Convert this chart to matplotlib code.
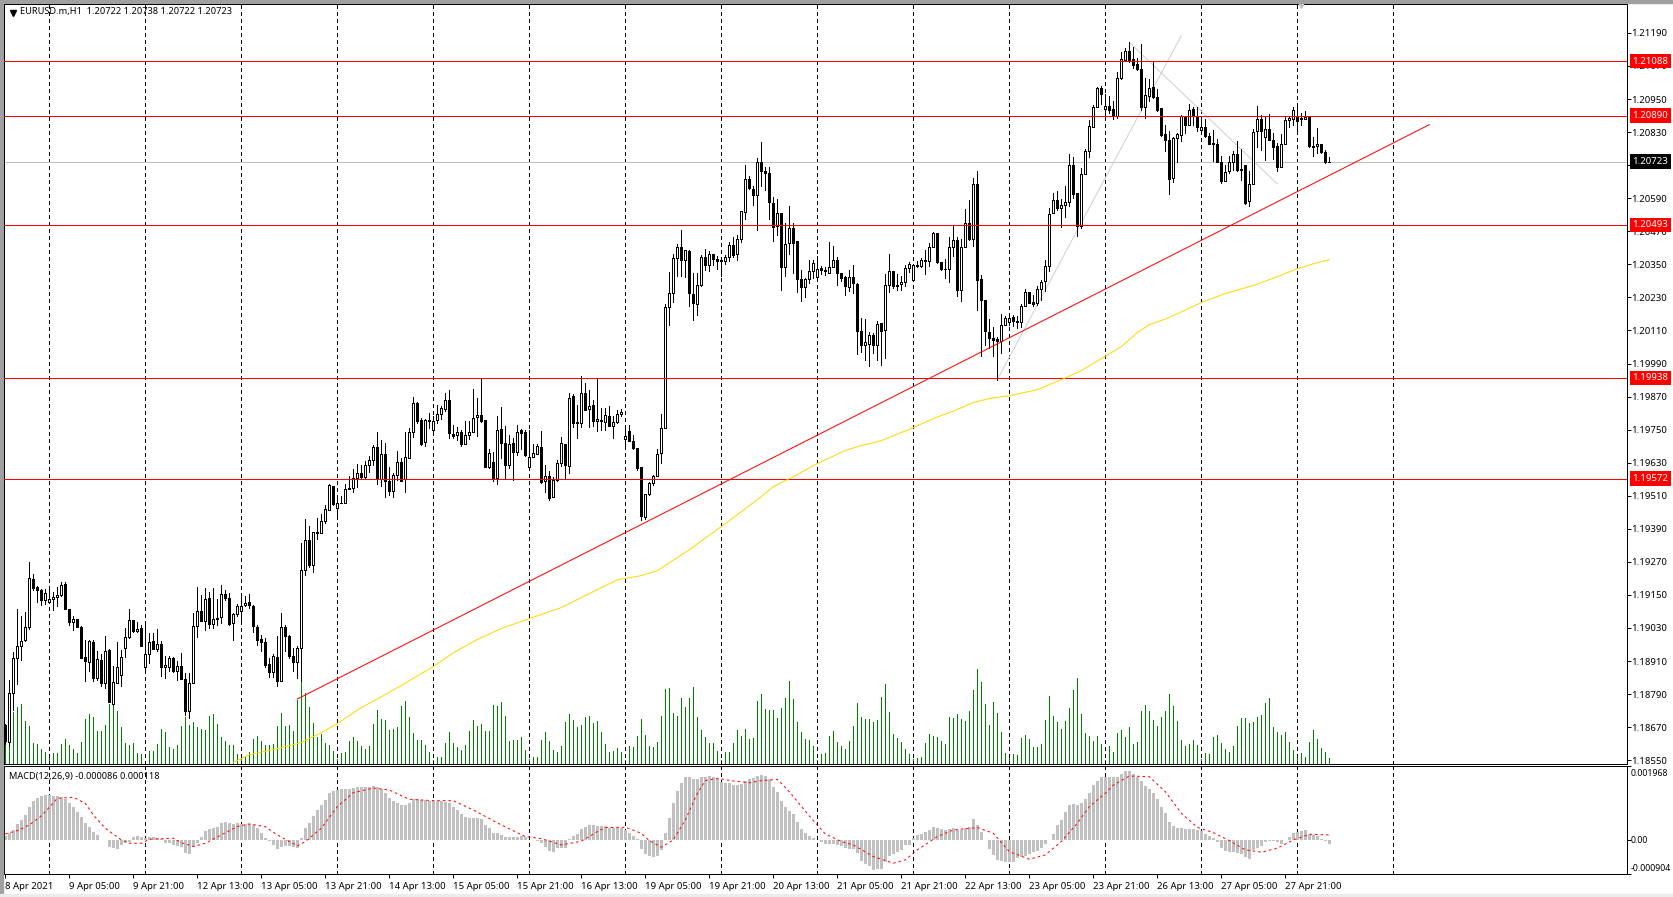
import numpy as np
import matplotlib
matplotlib.use('Agg')
import matplotlib.pyplot as plt
from matplotlib.patches import Rectangle
from matplotlib.transforms import ScaledTranslation

# hourly EURUSD candles, prices in 1/100000
opens = [
    118676,118615,118794,118921,118963,118985,119032,119208,119178,119166,
    119130,119126,119134,119141,119148,119189,119099,119050,119062,119033,
    118924,118905,118980,118849,118915,118832,118951,118753,118832,118858,
    118956,118996,119059,119018,119030,118890,118936,118984,118952,118973,
    118887,118890,118922,118872,118893,118846,118727,118832,119038,119093,
    119056,119139,119045,119064,119069,119154,119138,119048,119079,119090,
    119114,119124,119109,119034,118990,118980,118899,118869,118924,118836,
    119034,119001,118928,118905,118957,119240,119349,119257,119378,119374,
    119417,119459,119546,119464,119482,119482,119538,119537,119574,119592,
    119577,119620,119638,119688,119570,119662,119563,119526,119584,119632,
    119570,119648,119741,119846,119785,119704,119783,119750,119784,119805,
    119824,119858,119734,119730,119743,119697,119730,119742,119795,119803,
    119785,119616,119633,119575,119754,119702,119623,119703,119668,119747,
    119742,119613,119651,119661,119687,119563,119583,119505,119567,119628,
    119699,119617,119872,119779,119773,119883,119824,119841,119780,119785,
    119777,119800,119762,119777,119806,119716,119745,119709,119684,119615,
    119433,119517,119556,119581,119665,119756,120195,120246,120373,120413,
    120367,120400,120244,120206,120275,120378,120348,120388,120369,120366,
    120361,120378,120420,120386,120442,120540,120659,120624,120601,120722,
    120689,120682,120574,120488,120538,120339,120426,120482,120435,120297,
    120267,120295,120327,120303,120337,120331,120317,120340,120367,120319,
    120303,120268,120304,120280,120108,120057,120062,120094,120058,120137,
    120110,120274,120326,120275,120277,120285,120337,120294,120348,120343,
    120366,120361,120412,120464,120358,120334,120332,120412,120440,120256,
    120412,120500,120442,120642,120297,120219,120104,120083,120079,120071,
    120129,120140,120160,120144,120140,120198,120251,120212,120210,120261,
    120288,120343,120536,120585,120553,120564,120576,120712,120609,120488,
    120678,120762,120850,120921,120991,120914,120926,120914,120887,121027,
    121093,121126,121096,121079,121059,120920,120962,120994,120958,120918,
    120823,120803,120664,120809,120821,120885,120855,120915,120887,120837,
    120849,120815,120791,120787,120722,120651,120688,120720,120752,120696,
    120710,120580,120642,120833,120879,120811,120843,120801,120778,120702,
    120788,120875,120878,120885,120880,120878,120887,120780,120779,120787,120758,120722,
]
highs = [
    118680,118842,118943,119099,119072,119087,119269,119226,119181,119171,
    119171,119181,119159,119177,119197,119197,119099,119072,119062,119036,
    118985,118987,118987,118945,118936,119002,118953,118891,118980,118951,
    119030,119099,119060,119050,119042,119045,119011,119011,119027,118981,
    118929,118927,118924,118909,118939,118866,118866,119084,119178,119151,
    119175,119159,119175,119136,119187,119169,119157,119084,119118,119147,
    119147,119152,119114,119042,119005,118993,118921,118936,119002,119084,
    119042,119005,118957,118965,119338,119425,119399,119380,119429,119443,
    119476,119553,119546,119514,119510,119553,119580,119607,119626,119622,
    119637,119655,119695,119740,119713,119701,119616,119592,119671,119647,
    119740,119756,119868,119850,119792,119788,119810,119798,119840,119835,
    119883,119895,119768,119760,119747,119780,119780,119899,119863,119932,
    119785,119680,119668,119801,119832,119762,119732,119720,119768,119753,
    119747,119747,119696,119699,119744,119623,119599,119578,119639,119722,
    119699,119883,119880,119841,119944,119920,119895,119857,119938,119829,
    119829,119835,119799,119820,119825,119762,119765,119732,119684,119615,
    119517,119559,119587,119680,119805,120207,120322,120389,120425,120476,
    120401,120403,120319,120319,120385,120407,120397,120388,120379,120377,
    120385,120430,120449,120458,120544,120712,120670,120636,120736,120795,
    120703,120703,120595,120587,120538,120500,120563,120500,120435,120331,
    120301,120367,120367,120379,120345,120340,120431,120415,120376,120319,
    120307,120331,120349,120282,120155,120152,120103,120101,120146,120137,
    120315,120389,120326,120316,120309,120349,120357,120352,120361,120373,
    120403,120428,120466,120464,120358,120369,120449,120490,120449,120442,
    120551,120582,120663,120690,120313,120219,120152,120121,120085,120170,
    120161,120171,120167,120161,120207,120261,120251,120240,120273,120292,
    120367,120555,120609,120615,120587,120633,120751,120741,120609,120700,
    120769,120873,120930,120994,120996,120968,120960,120942,121047,121120,
    121135,121156,121139,121099,121148,121027,121024,121087,120987,120918,
    120857,120833,120812,120827,120893,120890,120933,120921,120921,120890,
    120878,120825,120839,120805,120742,120712,120742,120760,120797,120769,
    120712,120688,120841,120924,120893,120885,120897,120827,120790,120824,
    120890,120890,120921,120926,120900,120905,120887,120812,120845,120787,120764,120738,
]
lows = [
    118610,118600,118733,118828,118915,118981,119027,119166,119126,119114,
    119118,119126,119096,119108,119145,119100,119042,119024,119032,118920,
    118836,118872,118836,118842,118818,118812,118760,118751,118832,118820,
    118923,118993,119016,119016,118963,118869,118903,118952,118947,118857,
    118848,118872,118869,118840,118846,118715,118703,118832,118999,119057,
    119024,119030,119030,119042,119048,119130,119042,118985,119072,119060,
    119108,119101,119017,118969,118945,118890,118852,118852,118821,118836,
    118945,118921,118872,118848,118836,119223,119253,119232,119354,119374,
    119411,119457,119477,119435,119482,119482,119533,119522,119540,119574,
    119574,119595,119622,119552,119544,119507,119514,119504,119568,119562,
    119522,119648,119723,119774,119695,119689,119756,119737,119774,119789,
    119817,119720,119720,119711,119692,119697,119717,119742,119728,119777,
    119613,119610,119565,119554,119647,119571,119611,119566,119659,119678,
    119656,119613,119651,119661,119557,119523,119496,119505,119565,119619,
    119575,119593,119760,119718,119760,119823,119760,119762,119744,119747,
    119750,119762,119720,119774,119801,119692,119709,119678,119605,119421,
    119426,119514,119548,119581,119629,119756,120129,120212,120307,120307,
    120304,120198,120147,120167,120270,120331,120325,120349,120333,120307,
    120353,120361,120377,120367,120430,120516,120624,120567,120476,120633,
    120621,120516,120436,120458,120256,120307,120388,120319,120249,120216,
    120230,120282,120301,120303,120316,120313,120317,120340,120276,120288,
    120238,120252,120246,120026,120031,120002,119980,120028,120004,119986,
    120010,120248,120264,120258,120256,120273,120321,120294,120340,120340,
    120316,120345,120412,120355,120328,120300,120285,120379,120236,120216,
    120412,120440,120418,120183,120019,120058,120046,120016,119931,120028,
    120129,120131,120125,120119,120121,120198,120210,120198,120204,120222,
    120252,120325,120536,120548,120484,120522,120561,120591,120454,120482,
    120678,120739,120850,120921,120933,120887,120900,120878,120881,121023,
    121087,121083,121063,121057,120912,120881,120942,120954,120908,120815,
    120760,120605,120648,120720,120797,120827,120855,120857,120833,120827,
    120812,120785,120724,120722,120645,120651,120682,120694,120688,120657,
    120570,120561,120642,120776,120766,120728,120800,120733,120688,120702,
    120785,120849,120857,120827,120857,120878,120776,120745,120754,120754,120718,120722,
]
closes = [
    118618,118794,118921,118963,118982,119033,119211,119175,119166,119130,
    119157,119135,119142,119149,119187,119100,119050,119062,119034,118920,
    118909,118982,118849,118917,118832,118946,118760,118834,118888,118923,
    118996,119059,119018,119026,118963,118935,118979,118952,118972,118887,
    118895,118922,118875,118893,118846,118727,118830,119036,119093,119057,
    119135,119045,119064,119066,119154,119137,119045,119082,119108,119108,
    119119,119112,119036,118987,118978,118896,118869,118928,118836,119033,
    119002,118929,118905,118957,119240,119349,119257,119380,119373,119418,
    119462,119549,119481,119483,119483,119534,119533,119574,119592,119577,
    119621,119639,119687,119570,119662,119562,119526,119585,119632,119564,
    119650,119741,119846,119783,119699,119785,119785,119781,119805,119829,
    119858,119737,119728,119742,119696,119732,119742,119793,119803,119780,
    119613,119665,119575,119749,119701,119621,119698,119668,119742,119737,
    119657,119651,119665,119691,119560,119581,119502,119567,119629,119702,
    119621,119865,119773,119773,119883,119823,119834,119780,119789,119780,
    119803,119762,119778,119808,119814,119727,119709,119682,119609,119436,
    119517,119556,119581,119663,119756,120195,120246,120373,120413,120365,
    120401,120245,120209,120275,120378,120347,120388,120368,120361,120361,
    120377,120420,120385,120442,120544,120659,120626,120601,120722,120688,
    120681,120575,120486,120537,120339,120424,120482,120429,120295,120267,
    120297,120325,120355,120333,120328,120327,120339,120365,120319,120301,
    120270,120304,120281,120107,120057,120067,120094,120057,120133,120107,
    120275,120326,120270,120270,120286,120337,120352,120348,120343,120367,
    120361,120413,120464,120357,120332,120332,120413,120438,120256,120413,
    120500,120442,120642,120294,120219,120107,120083,120077,120071,120130,
    120155,120155,120143,120140,120200,120250,120210,120207,120261,120286,
    120344,120533,120584,120555,120565,120576,120712,120605,120488,120679,
    120762,120851,120921,120990,120968,120925,120912,120890,121027,121096,
    121125,121093,121073,121060,120920,120964,120990,120958,120912,120818,
    120800,120660,120809,120823,120887,120857,120910,120887,120850,120849,
    120815,120788,120786,120722,120651,120684,120723,120752,120691,120691,
    120574,120642,120831,120879,120833,120843,120800,120776,120702,120788,
    120875,120880,120912,120869,120878,120886,120779,120776,120787,120757,120720,120723,
]

# tick volume, on its own scale
volumes = [
    113,120,153,168,178,128,113,61,58,43,35,26,30,30,58,73,56,43,30,65,
    133,148,140,98,98,116,178,178,158,110,61,55,61,31,28,8,38,38,58,103,
    93,48,43,56,111,138,116,125,110,103,100,143,148,118,78,68,56,55,28,21,
    23,33,73,83,68,56,56,58,113,151,113,116,98,190,248,210,168,121,78,88,
    60,56,38,13,31,33,68,78,66,51,43,53,118,160,133,130,100,103,110,173,
    188,138,91,70,70,56,33,10,18,20,61,95,60,48,41,56,98,130,113,118,
    96,98,176,173,185,141,66,70,70,80,41,13,20,20,70,95,68,41,33,52,
    125,148,130,108,115,139,142,120,127,94,58,34,37,46,34,10,52,49,82,133,
    85,52,49,64,142,223,226,151,142,196,169,196,229,139,100,79,61,61,37,10,
    34,34,61,100,82,103,73,76,187,208,163,160,160,136,166,196,247,193,124,94,
    73,70,52,10,28,31,82,97,64,52,43,67,112,181,139,133,133,124,130,199,
    238,154,88,76,64,43,28,12,16,19,61,88,82,79,67,58,139,136,148,133,
    127,157,220,283,244,178,115,184,151,94,31,15,28,25,76,85,73,49,49,58,
    130,202,142,124,103,127,166,220,256,148,91,82,67,82,57,10,52,34,91,100,
    79,109,58,64,157,175,157,130,112,139,157,208,172,127,70,52,58,70,55,13,
    31,28,79,85,61,43,34,52,112,136,136,121,124,139,145,181,196,109,94,85,
    94,64,40,16,31,19,64,100,73,46,34,16,
]

# MACD histogram and signal, in steps of 1/223 of the 0.001968 scale mark
macd_hist = [
    12,20,30,48,60,75,98,117,125,132,135,135,133,132,130,122,112,98,85,69,
    50,40,25,15,1,0,-20,-25,-28,-15,-10,-5,10,12,10,7,8,8,6,2,
    -8,-8,-15,-18,-22,-38,-41,-20,-8,10,27,32,35,40,50,55,52,48,50,48,
    48,48,45,35,20,5,-2,-15,-28,-20,-18,-18,-20,-23,5,35,50,72,90,105,
    120,140,146,150,152,153,153,157,158,158,160,160,162,158,153,140,125,117,112,105,
    105,112,123,122,120,120,118,118,118,118,115,110,98,90,78,70,65,65,65,62,
    45,35,20,22,15,10,8,8,10,12,8,0,0,-2,-10,-20,-33,-35,-25,-24,
    -23,3,12,18,33,40,45,45,42,42,42,37,37,37,35,29,22,12,2,-28,
    -42,-48,-50,-47,-30,21,67,110,146,170,189,189,183,183,189,190,192,189,182,175,
    172,170,165,165,167,177,183,186,192,195,192,182,160,145,117,100,88,78,54,32,
    20,12,6,0,-6,-12,-12,-12,-15,-18,-24,-27,-27,-40,-63,-72,-78,-90,-88,-87,
    -66,-48,-42,-36,-30,-15,-15,6,14,18,24,30,38,36,32,30,33,36,30,30,
    36,38,63,45,24,0,-27,-45,-60,-63,-66,-66,-66,-55,-50,-48,-42,-36,-33,-24,
    -12,0,18,45,60,84,105,108,105,111,123,142,164,177,189,189,189,189,189,198,
    206,208,198,189,177,162,152,140,122,100,80,54,42,36,36,33,33,33,30,27,
    18,12,6,-6,-24,-33,-35,-36,-39,-42,-52,-57,-30,-24,-18,-6,-3,-3,-5,-12,
    0,9,21,24,26,30,18,15,12,3,-3,-12,
]
signal_bars = [
    0,3,6,9,11,13,17,20,22,25,29,31,34,36,42,44,47,50,54,58,61,65,68,73,75,79,83,87,92,96,
    101,107,112,117,124,130,134,139,144,148,150,155,159,161,164,167,170,173,175,178,182,186,
    189,193,196,201,205,209,212,217,222,225,228,233,237,243,247,251,256,260,264,268,271,275,
    277,281,286,290,294,298,302,306,310,314,318,322,326,331,
]
signal_values = [
    18,28,45,72,98,125,128,110,75,35,0,-10,-10,2,5,-8,-20,-10,15,40,48,40,15,-18,-5,35,100,142,156,150,
    122,118,118,90,45,10,4,-15,-4,25,37,38,20,-2,-22,0,60,140,178,185,177,172,
    178,182,145,72,18,-5,-15,-50,-70,-60,-30,10,30,37,20,-35,-58,-45,-5,50,100,140,
    165,192,190,145,80,38,22,-2,-30,-37,-25,0,17,15,
]
macd_step = 0.001968 / 223

# 200-hour moving average as it reads off the chart
ma_bars = [
    57,61,68,74,79,83,89,95,99,107,112,118,124,131,139,148,153,159,163,171,179,183,189,192,197,
    203,210,213,219,227,232,238,242,246,251,258,264,269,274,279,283,286,291,299,305,312,318,323,328,331,
]
ma_values = [
    118542,118570,118592,118614,118650,118683,118741,118788,118821,118890,118940,118988,119028,
    119064,119104,119169,119205,119220,119238,119314,119398,119441,119507,119543,119579,
    119627,119674,119688,119710,119757,119790,119823,119848,119863,119873,119895,119931,119964,
    120008,120051,120102,120131,120157,120211,120244,120273,120305,120334,120356,120367,
]

level_prices = [1.21088, 1.20890, 1.20493, 1.19938, 1.19572]
level_labels = ['1.21088', '1.20890', '1.20493', '1.19938', '1.19572']
bid_price = 1.20723

trend_bars = [73, 356]
trend_prices = [1.18772, 1.20857]
gray_up_bars = [248, 294]
gray_up_prices = [1.19931, 1.21180]
gray_down_bars = [281, 318]
gray_down_prices = [1.21156, 1.20642]

price_ticks = [1.21190, 1.21070, 1.20950, 1.20830, 1.20710, 1.20590, 1.20470, 1.20350, 1.20230, 1.20110,
               1.19990, 1.19870, 1.19750, 1.19630, 1.19510, 1.19390, 1.19270, 1.19150, 1.19030, 1.18910,
               1.18790, 1.18670, 1.18550]
time_tick_bars = list(range(0, 321, 16))
time_labels = ['8 Apr 2021', '9 Apr 05:00', '9 Apr 21:00', '12 Apr 13:00', '13 Apr 05:00', '13 Apr 21:00',
               '14 Apr 13:00', '15 Apr 05:00', '15 Apr 21:00', '16 Apr 13:00', '19 Apr 05:00', '19 Apr 21:00',
               '20 Apr 13:00', '21 Apr 05:00', '21 Apr 21:00', '22 Apr 13:00', '23 Apr 05:00', '23 Apr 21:00',
               '26 Apr 13:00', '27 Apr 05:00', '27 Apr 21:00']
day_bars = list(range(11, 348, 24))

WIDTH, HEIGHT = 1673, 897
PX = 0.72
FONT = 6.9
GRID_DASH = (0, (3.5, 3))

plt.rcParams['font.family'] = ['Noto Sans', 'DejaVu Sans']


def pane(fig, left, top, right, bottom):
    ax = fig.add_axes([left / WIDTH, 1 - bottom / HEIGHT, (right - left) / WIDTH, (bottom - top) / HEIGHT])
    for spine in ax.spines.values():
        spine.set_linewidth(PX)
        spine.set_color('black')
    ax.set_xlim(-0.25, 405.3)
    return ax


def draw_candles(ax):
    bars = np.arange(len(closes))
    o = np.array(opens) / 1e5
    h = np.array(highs) / 1e5
    l = np.array(lows) / 1e5
    c = np.array(closes) / 1e5
    ax.vlines(bars, l, h, color='black', lw=PX, zorder=3, antialiased=False)
    up = c >= o
    ax.bar(bars[up], (c - o)[up], bottom=o[up], width=0.5, facecolor='white', edgecolor='black',
           lw=PX, zorder=4, antialiased=False)
    ax.bar(bars[~up], (o - c)[~up], bottom=c[~up], width=0.5, facecolor='black', edgecolor='black',
           lw=PX, zorder=4, antialiased=False)


def price_tag(ax, price, label, color):
    ax.text(1 + 6 / 1622, price, label, transform=ax.get_yaxis_transform(), fontsize=FONT, color='white',
            va='center', ha='left', clip_on=False, zorder=8,
            bbox=dict(boxstyle='square,pad=0.28', fc=color, ec=color, lw=0))


fig = plt.figure(figsize=(WIDTH / 100, HEIGHT / 100), dpi=100, facecolor='white')
ax = pane(fig, 4.3, 4.0, 1626.5, 763.5)
ax_macd = pane(fig, 4.3, 765.7, 1626.5, 874)

# window frame of the terminal
fig.add_artist(Rectangle((0, 1 - 3 / HEIGHT), 1, 3 / HEIGHT, transform=fig.transFigure, color='#a0a0a0'))
fig.add_artist(Rectangle((0, 0), 3 / WIDTH, 1, transform=fig.transFigure, color='#a0a0a0'))
fig.add_artist(Rectangle((0, 0), 1, 3 / HEIGHT, transform=fig.transFigure, color='#ececec'))

# main pane
ax.set_ylim(1.18538, 1.21295)
ax.set_zorder(2)
ax.patch.set_alpha(0)
ax_vol = ax.twinx()
ax_vol.set_ylim(0, 2278)
ax_vol.set_yticks([])
ax_vol.set_zorder(1)
ax_vol.vlines(np.arange(len(volumes)), 0, volumes, color='#008000', lw=PX, antialiased=False)
for spine in ax_vol.spines.values():
    spine.set_visible(False)

for bar in day_bars:
    ax.axvline(bar, color='black', lw=PX, ls=GRID_DASH, zorder=1, antialiased=False)
    ax_macd.axvline(bar, color='black', lw=PX, ls=GRID_DASH, zorder=1, antialiased=False)

ax.axhline(bid_price, color='#c0c0c0', lw=PX, zorder=2, antialiased=False)
ax.plot(gray_up_bars, gray_up_prices, color='#d0d0d0', lw=PX, zorder=2)
ax.plot(gray_down_bars, gray_down_prices, color='#d0d0d0', lw=PX, zorder=2)
draw_candles(ax)
for price in level_prices:
    ax.axhline(price, color='#ff0000', lw=PX, zorder=6, antialiased=False)
ax.plot(trend_bars, trend_prices, color='#ff0000', lw=PX, zorder=6)
ax.plot(ma_bars, np.array(ma_values) / 1e5, color='#ffd700', lw=PX, zorder=6)
ax.plot([324], [1.21292], marker='v', ms=5, color='#c0c0c0', zorder=6, clip_on=True)

ax.set_xticks([])
ax.yaxis.tick_right()
ax.set_yticks(price_ticks)
ax.set_yticklabels(['%.5f' % p for p in price_ticks], fontsize=FONT)
ax.tick_params(axis='y', length=2.9, width=PX, pad=0.2)

for price, label in zip(level_prices, level_labels):
    price_tag(ax, price, label, '#ff0000')
price_tag(ax, bid_price, '%.5f' % bid_price, 'black')

ax.plot([0.0054], [0.9885], marker='v', ms=5, color='black', transform=ax.transAxes, clip_on=False, zorder=9)
ax.text(0.0098, 0.9896, 'EURUSD.m,H1  1.20722 1.20738 1.20722 1.20723', transform=ax.transAxes,
        fontsize=6.65, va='center', ha='left', zorder=9)

# macd pane
ax_macd.set_ylim(-0.000904, 0.001968)
ax_macd.bar(np.arange(len(macd_hist)), np.array(macd_hist) * macd_step, width=0.75, color='#c0c0c0',
            zorder=2, antialiased=False)
ax_macd.plot(signal_bars, np.array(signal_values) * macd_step, color='#ff0000', lw=PX, ls=(0, (2.5, 3)), zorder=3)
ax_macd.text(0.003, 0.9, 'MACD(12,26,9) -0.000086 0.000118', transform=ax_macd.transAxes, fontsize=6.6,
             va='center', ha='left', zorder=5)

ax_macd.yaxis.tick_right()
ax_macd.set_yticks([0.001968, 0.0, -0.000904])
macd_labels = ax_macd.set_yticklabels(['0.001968', '0.00', '-0.000904'], fontsize=6.3)
ax_macd.tick_params(axis='y', length=2.9, width=PX, pad=0.2)
macd_labels[0].set_va('top')
macd_labels[0].set_transform(macd_labels[0].get_transform() + ScaledTranslation(0, -3 / 100, fig.dpi_scale_trans))
macd_labels[2].set_va('bottom')
macd_labels[2].set_transform(macd_labels[2].get_transform() + ScaledTranslation(0, 1.5 / 100, fig.dpi_scale_trans))

ax_macd.set_xticks(time_tick_bars)
ax_macd.set_xticklabels(time_labels, fontsize=FONT, ha='left')
ax_macd.tick_params(axis='x', length=2.9, width=PX, pad=2.5)

fig.savefig('out.png', dpi=100)
